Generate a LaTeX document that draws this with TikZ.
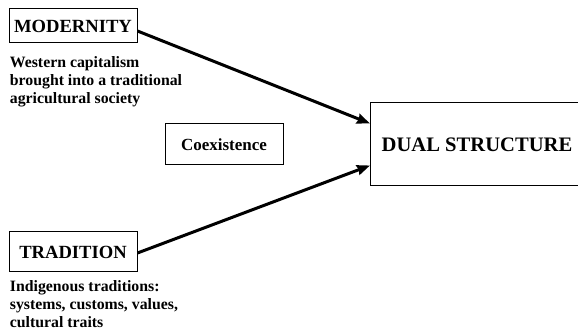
\documentclass[tikz,border=0pt]{standalone}
\usepackage{fontspec}
\setmainfont{Liberation Serif}
\usetikzlibrary{arrows.meta, positioning}

\begin{document}
\begin{tikzpicture}[
  x=0.5pt, y=-0.5pt,
  box/.style={draw, line width=0.5pt, inner sep=0pt, align=center},
  desc/.style={font=\fontsize{7.9}{8.8}\selectfont\bfseries, align=left,
               inner sep=0pt, anchor=north west},
  arrow/.style={-{Stealth[length=6.5pt, width=5pt, inset=0.6pt]}, line width=1.5pt},
]
\useasboundingbox (0,0) rectangle (578,335);

% the two sources
\node[box, minimum width=64pt, minimum height=17pt,
      font=\fontsize{9.3}{11}\selectfont\bfseries] (modernity) at (73,26) {MODERNITY};
\node[box, minimum width=64pt, minimum height=20pt,
      font=\fontsize{9.3}{11}\selectfont\bfseries] (tradition) at (73,252) {TRADITION};

\node[desc, below=6.5pt of modernity.south west, anchor=north west, xshift=0.5pt] (moddesc)
  {Western capitalism\\brought into a traditional\\agricultural society};
\node[desc, below=4pt of tradition.south west, anchor=north west, xshift=0.5pt] (traddesc)
  {Indigenous traditions:\\systems, customs, values,\\cultural traits};

\node[box, minimum width=59pt, minimum height=20.5pt,
      font=\fontsize{8.5}{10}\selectfont\bfseries] (coexist) at (224,144.5) {Coexistence};

% result, cut by the page edge on the right
\node[box, minimum width=106.5pt, minimum height=41.5pt,
      font=\fontsize{10.3}{12}\selectfont\bfseries] (dual) at (477,144.5) {DUAL STRUCTURE};

\draw[arrow] ([yshift=-2.5pt]modernity.east) -- ([yshift=10.5pt]dual.west);
\draw[arrow] ([yshift=-0.5pt]tradition.east) -- ([yshift=-10.5pt]dual.west);
\end{tikzpicture}
\end{document}
